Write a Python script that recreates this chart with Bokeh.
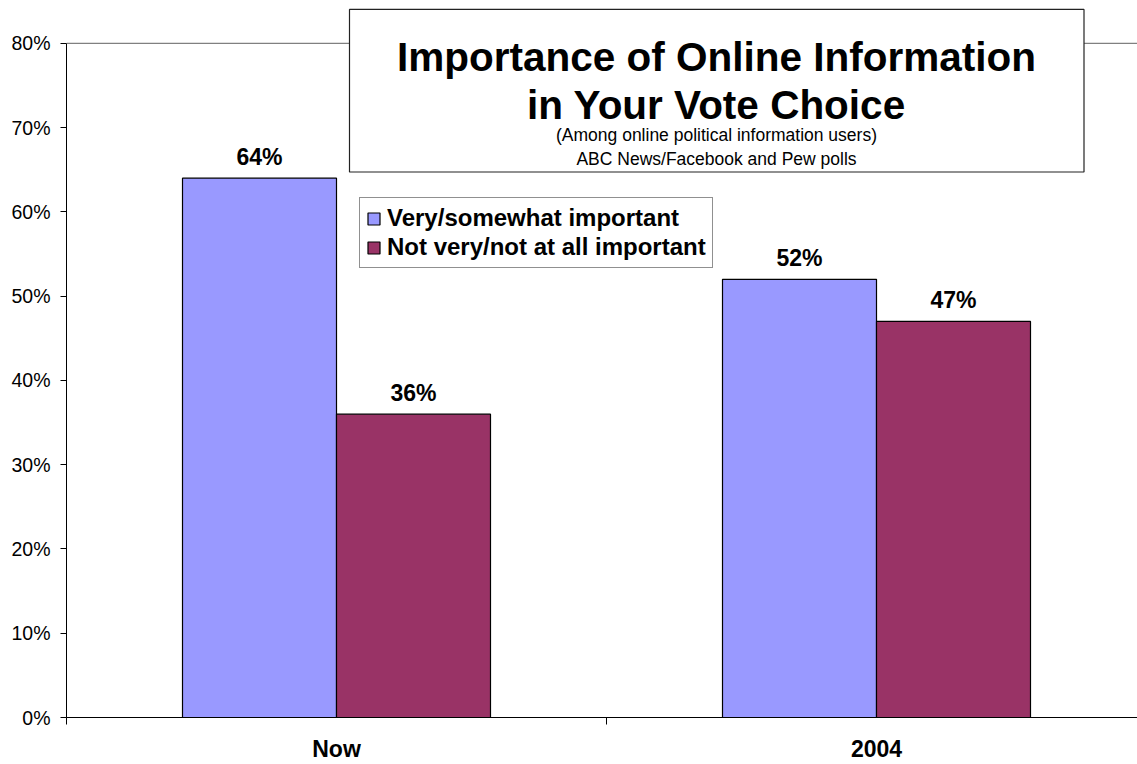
from bokeh.plotting import figure
from bokeh.models import (ColumnDataSource, FixedTicker, PrintfTickFormatter, Span,
                          Legend, LegendItem, Range1d)
from bokeh.core.properties import value
from bokeh.embed import file_html
from bokeh.resources import INLINE

# ---- data ----
categories = ["Now", "2004"]
very_somewhat = [64, 52]
not_very = [36, 47]
series_names = ["Very/somewhat important", "Not very/not at all important"]
y_ticks = [0, 10, 20, 30, 40, 50, 60, 70, 80]
title_lines = ["Importance of Online Information", "in Your Vote Choice"]
subtitle_lines = ["(Among online political information users)",
                  "ABC News/Facebook and Pew polls"]

FONT = "Liberation Sans"
BLUE = "#9999FF"
RED = "#993366"

W, H = 1137, 764
LEFT, BOTTOM_BORDER = 66, 45
FRAME_W = W - LEFT
FRAME_H = H - BOTTOM_BORDER
PX_PER_CAT = 540.0
PX_PER_PCT = 676.0 / 80.0

x_end = FRAME_W / PX_PER_CAT
y_end = FRAME_H / PX_PER_PCT


def xd(px):
    return (px - LEFT) / PX_PER_CAT


def yd(py):
    return (FRAME_H - py) / PX_PER_PCT


p = figure(width=W, height=H, output_backend="svg", toolbar_location=None,
           x_range=Range1d(0, x_end), y_range=Range1d(0, y_end),
           min_border_left=LEFT, min_border_right=0, min_border_top=0,
           min_border_bottom=BOTTOM_BORDER, outline_line_color=None,
           background_fill_color="white", border_fill_color="white")
p.xgrid.visible = False
p.ygrid.visible = False

# top frame line at 80%
top_line = Span(location=80, dimension="width", line_color="#808080", line_width=1.2,
                level="underlay")
p.add_layout(top_line)

bar_w = 154.0 / PX_PER_CAT
idx = list(range(len(categories)))
src = ColumnDataSource(dict(
    cat=categories,
    xa=[i + 0.5 - bar_w / 2 for i in idx],
    xb=[i + 0.5 + bar_w / 2 for i in idx],
    very=very_somewhat,
    notv=not_very,
    very_lbl=[f"{v}%" for v in very_somewhat],
    notv_lbl=[f"{v}%" for v in not_very],
))

r1 = p.vbar(x="xa", top="very", width=bar_w, bottom=0, source=src,
            fill_color=BLUE, line_color="black", line_width=1.2)
r2 = p.vbar(x="xb", top="notv", width=bar_w, bottom=0, source=src,
            fill_color=RED, line_color="black", line_width=1.2)

for col, lbl in (("xa", "very"), ("xb", "notv")):
    p.text(x=col, y=lbl, text=lbl + "_lbl", source=src, text_align="center",
           text_baseline="alphabetic", y_offset=-21, text_font=value(FONT),
           text_font_style="bold", text_font_size="23px", text_color="black")

# title box
p.quad(left=xd(349), right=xd(1083.5), top=yd(9), bottom=yd(172),
       fill_color="white", line_color="#222222", line_width=1.2)
cx = xd(716)
for line, base in zip(title_lines, (56.5, 104.5)):
    p.text(x=[cx], y=[yd(base)], text=[line], text_align="center",
           text_baseline="alphabetic", text_font=value(FONT), text_font_style="bold",
           text_font_size="40.5px", text_color="black")
for line, base in zip(subtitle_lines, (135, 159)):
    p.text(x=[cx], y=[yd(base)], text=[line], text_align="center",
           text_baseline="alphabetic", text_font=value(FONT),
           text_font_size="17.5px", text_color="black")

# legend
legend = Legend(items=[LegendItem(label=series_names[0], renderers=[r1]),
                       LegendItem(label=series_names[1], renderers=[r2])],
                location=(359 - LEFT, FRAME_H - 270), orientation="vertical",
                label_text_font=FONT, label_text_font_style="bold",
                label_text_font_size="24px", label_text_color="black",
                glyph_width=15, glyph_height=15, label_standoff=6,
                padding=6, spacing=1, margin=0, label_height=26,
                border_line_color="#222222", border_line_width=1,
                background_fill_color="white", background_fill_alpha=1.0)
p.add_layout(legend)

# y axis
ya = p.yaxis[0]
ya.ticker = FixedTicker(ticks=y_ticks)
ya.formatter = PrintfTickFormatter(format="%d%%")
ya.bounds = (0, 80)
ya.axis_line_color = "black"
ya.major_tick_line_color = "black"
ya.major_tick_out = 6
ya.major_tick_in = 0
ya.minor_tick_line_color = None
ya.major_label_standoff = 10
ya.major_label_text_font = FONT
ya.major_label_text_font_size = "19.5px"
ya.major_label_text_color = "black"

# x axis
xa = p.xaxis[0]
xa.ticker = FixedTicker(ticks=[i + 0.5 for i in idx], minor_ticks=[0, 1, 2])
xa.major_label_overrides = {i + 0.5: c for i, c in zip(idx, categories)}
xa.axis_line_color = "black"
xa.major_tick_line_color = None
xa.major_tick_out = 7
xa.major_tick_in = 0
xa.minor_tick_line_color = "black"
xa.minor_tick_out = 7
xa.minor_tick_in = 0
xa.major_label_standoff = 11
xa.major_label_text_font = FONT
xa.major_label_text_font_style = "bold"
xa.major_label_text_font_size = "23px"
xa.major_label_text_color = "black"

open("out.html", "w").write(file_html(p, INLINE))
